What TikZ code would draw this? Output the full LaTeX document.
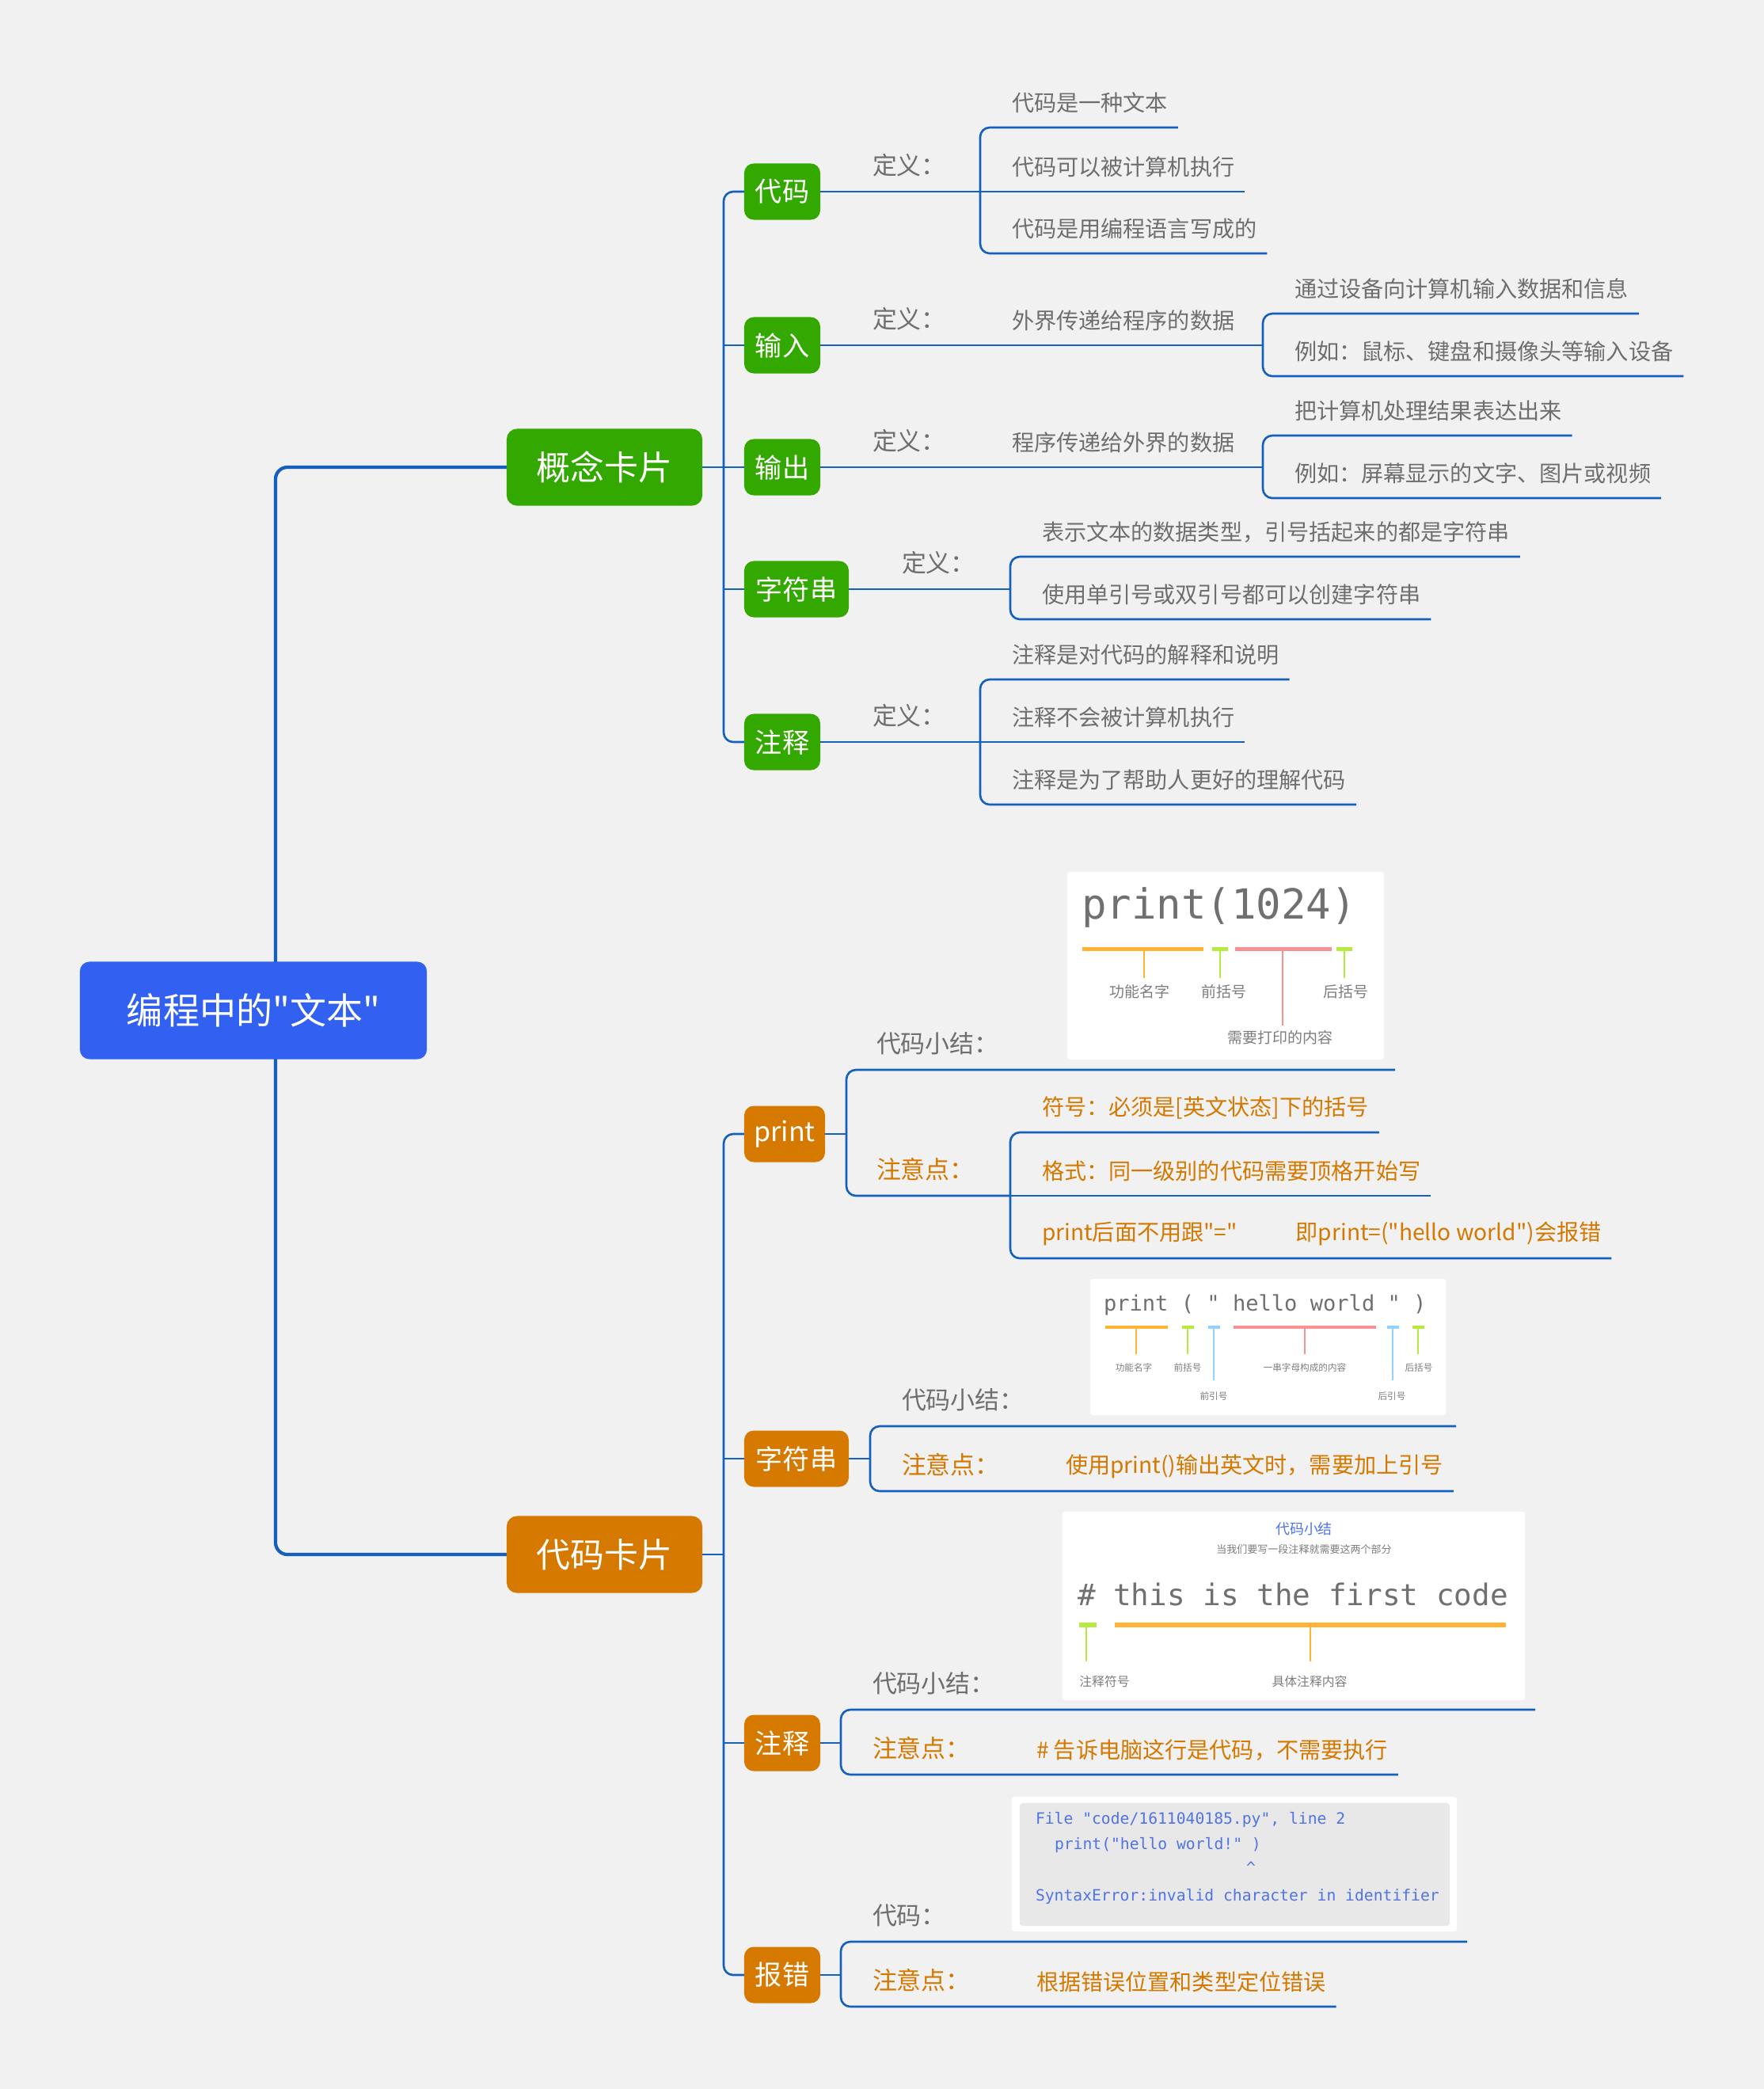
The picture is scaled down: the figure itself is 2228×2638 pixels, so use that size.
\documentclass[tikz,border=0pt]{standalone}
\usepackage{fontspec}
\newfontfamily\cjk{Noto Sans CJK SC}
\newfontfamily\mono{DejaVu Sans Mono}
\usetikzlibrary{calc}
\pgfdeclarelayer{back}
\pgfdeclarelayer{lines}
\pgfsetlayers{back,lines,main}

\definecolor{bgc}{RGB}{241,241,241}
\definecolor{linec}{RGB}{22,96,189}
\definecolor{rootc}{RGB}{50,96,240}
\definecolor{greenc}{RGB}{51,168,0}
\definecolor{orangec}{RGB}{213,121,0}
\definecolor{graytxt}{RGB}{110,110,110}
\definecolor{oratxt}{RGB}{212,120,0}
\definecolor{paneltxt}{RGB}{112,112,112}
\definecolor{panellab}{RGB}{125,125,125}
\definecolor{barora}{RGB}{255,178,52}
\definecolor{bargrn}{RGB}{182,234,60}
\definecolor{barpink}{RGB}{248,146,146}
\definecolor{barblue}{RGB}{146,208,255}
\definecolor{codeblue}{RGB}{80,115,230}
\definecolor{errbg}{RGB}{232,232,232}

\newcommand\fs[1]{\fontsize{#1}{#1}\selectfont}

\tikzset{
  every node/.style={inner sep=0pt, outer sep=0pt},
  conn/.style={draw=linec, line width=0.75pt, rounded corners=0.12cm},
  rootconn/.style={draw=linec, line width=1.2pt, rounded corners=0.15cm},
  rootbox/.style={fill=rootc, text=white, rounded corners=0.12cm,
    minimum width=4.38cm, minimum height=1.23cm, font=\cjk\fs{13.1}},
  cardbox/.style={fill=#1, text=white, rounded corners=0.13cm,
    minimum width=2.47cm, minimum height=0.97cm, font=\cjk\fs{12.2}},
  subbox/.style={fill=#1, text=white, rounded corners=0.12cm,
    minimum height=0.71cm, font=\cjk\fs{9.7}},
  labtxt/.style={anchor=west, text=#1, font=\cjk\fs{8.8}},
  labtxt/.default=graytxt,
  leaftxt/.style={anchor=west, text=#1, font=\cjk\fs{8}},
  leaftxt/.default=graytxt,
  panelbox/.style={fill=white, rounded corners=0.03cm},
  plab/.style={text=panellab, font=\cjk\fs{#1}},
  stem/.style={line width=0.02cm},
}

% underlined topic: style, name, bracket x, underline y, text
\newcommand\topic[5]{%
  \coordinate (#2-s) at (#3,#4);
  \node[#1] (#2) at ($(#2-s)+(40,-31)$) {#5};
  \coordinate (#2-e) at ($(#2.east |- #2-s)+(13,0)$);
}

% marker bar with its stem: colour, x1, x2, y, thickness, stem x, stem end y
\newcommand\markbar[7]{%
  \fill[#1] (#2,#4-#5/2) rectangle (#3,#4+#5/2);
  \draw[#1, stem] (#6,#4) -- (#6,#7);
}

\begin{document}
\begin{tikzpicture}[x=0.01cm, y=-0.01cm]
\begin{pgfonlayer}{back}
  \fill[bgc] (0,0) rectangle (2228,2638);
\end{pgfonlayer}
\useasboundingbox (0,0) rectangle (2228,2638);

% ---------- root and the two cards ----------
\node[rootbox] (root) at (320,1276) {编程中的"文本"};
\node[cardbox=greenc] (gn) at (763.5,590) {概念卡片};
\node[cardbox=orangec] (dn) at (763.5,1963) {代码卡片};
\coordinate (rv) at (348,0);
\coordinate (tk) at (914,0);

% ---------- concept card ----------
\node[subbox=greenc, minimum width=0.96cm] (c1) at (988,242) {代码};
\node[subbox=greenc, minimum width=0.96cm] (c2) at (988,436) {输入};
\node[subbox=greenc, minimum width=0.96cm] (c3) at (988,590) {输出};
\node[subbox=greenc, minimum width=1.32cm] (c4) at (1006,744) {字符串};
\node[subbox=greenc, minimum width=0.96cm] (c5) at (988,937) {注释};

\node[labtxt] (c1d) at (1102,209) {定义：};
\topic{leaftxt}{c1a}{1238}{161}{代码是一种文本}
\topic{leaftxt}{c1b}{1238}{242}{代码可以被计算机执行}
\topic{leaftxt}{c1c}{1238}{320}{代码是用编程语言写成的}

\node[labtxt] (c2d) at (1102,403) {定义：};
\topic{leaftxt}{c2a}{1238}{436}{外界传递给程序的数据}
\coordinate (c2k) at (1595,436);
\topic{leaftxt}{c2a1}{1595}{396}{通过设备向计算机输入数据和信息}
\topic{leaftxt}{c2a2}{1595}{475}{例如：鼠标、键盘和摄像头等输入设备}

\node[labtxt] (c3d) at (1102,557) {定义：};
\topic{leaftxt}{c3a}{1238}{590}{程序传递给外界的数据}
\coordinate (c3k) at (1595,590);
\topic{leaftxt}{c3a1}{1595}{550}{把计算机处理结果表达出来}
\topic{leaftxt}{c3a2}{1595}{629}{例如：屏幕显示的文字、图片或视频}

\node[labtxt] (c4d) at (1139,711) {定义：};
\topic{leaftxt}{c4a}{1276}{703}{表示文本的数据类型，引号括起来的都是字符串}
\topic{leaftxt}{c4b}{1276}{782}{使用单引号或双引号都可以创建字符串}

\node[labtxt] (c5d) at (1102,904) {定义：};
\topic{leaftxt}{c5a}{1238}{858}{注释是对代码的解释和说明}
\topic{leaftxt}{c5b}{1238}{937}{注释不会被计算机执行}
\topic{leaftxt}{c5c}{1238}{1016}{注释是为了帮助人更好的理解代码}

% ---------- code card ----------
\node[subbox=orangec, minimum width=1.02cm] (d1) at (991,1432) {print};
\node[subbox=orangec, minimum width=1.32cm] (d2) at (1006,1842) {字符串};
\node[subbox=orangec, minimum width=0.96cm] (d3) at (988,2201) {注释};
\node[subbox=orangec, minimum width=0.96cm] (d4) at (988,2494) {报错};

% print
\coordinate (d1s) at (1069,1351);
\coordinate (d1se) at (1762,1351);
\coordinate (d1n) at (1069,1510);
\coordinate (d1k) at (1276,1510);
\node[labtxt] (d1sum) at (1107,1318) {代码小结：};
\node[labtxt=oratxt] (d1note) at (1107,1477) {注意点：};
\topic{leaftxt=oratxt}{d1a}{1276}{1430}{符号：必须是[英文状态]下的括号}
\topic{leaftxt=oratxt}{d1b}{1276}{1510}{格式：同一级别的代码需要顶格开始写}
\topic{leaftxt=oratxt}{d1c}{1276}{1589}{print后面不用跟"="\hspace{0.74cm}即print=("hello world")会报错}

% string
\coordinate (d2s) at (1099,1801);
\coordinate (d2se) at (1839,1801);
\coordinate (d2n) at (1099,1883);
\node[labtxt] (d2sum) at (1139,1768) {代码小结：};
\node[labtxt=oratxt] (d2note) at (1139,1850) {注意点：};
\node[leaftxt=oratxt] (d2a) at (1346,1852) {使用print()输出英文时，需要加上引号};
\coordinate (d2ae) at ($(d2a.east |- d2n)+(13,0)$);

% comment
\coordinate (d3s) at (1062,2159);
\coordinate (d3se) at (1939,2159);
\coordinate (d3n) at (1062,2241);
\node[labtxt] (d3sum) at (1102,2126) {代码小结：};
\node[labtxt=oratxt] (d3note) at (1102,2208) {注意点：};
\node[leaftxt=oratxt] (d3a) at (1309,2210) {\# 告诉电脑这行是代码，不需要执行};
\coordinate (d3ae) at ($(d3a.east |- d3n)+(13,0)$);

% error
\coordinate (d4s) at (1062,2452);
\coordinate (d4se) at (1853,2452);
\coordinate (d4n) at (1062,2534);
\node[labtxt] (d4sum) at (1102,2419) {代码：};
\node[labtxt=oratxt] (d4note) at (1102,2501) {注意点：};
\node[leaftxt=oratxt] (d4a) at (1309,2503) {根据错误位置和类型定位错误};
\coordinate (d4ae) at ($(d4a.east |- d4n)+(13,0)$);

% ---------- connectors ----------
\begin{pgfonlayer}{lines}
  \draw[rootconn] (gn.west) -- (rv |- gn.west) -- (rv |- dn.west) -- (dn.west);

  \draw[conn] (c1.west) -- (tk |- c1.west) -- (tk |- c5.west) -- (c5.west);
  \draw[conn] (gn.east) -- (c3.west);
  \draw[conn] (tk |- c2.west) -- (c2.west);
  \draw[conn] (tk |- c4.west) -- (c4.west);

  \draw[conn] (c1.east) -- (c1b-s);
  \draw[conn] (c1a-e) -- (c1a-s) -- (c1c-s) -- (c1c-e);
  \draw[conn] (c1b-s) -- (c1b-e);

  \draw[conn] (c2.east) -- (c2k);
  \draw[conn] (c2a1-e) -- (c2a1-s) -- (c2a2-s) -- (c2a2-e);

  \draw[conn] (c3.east) -- (c3k);
  \draw[conn] (c3a1-e) -- (c3a1-s) -- (c3a2-s) -- (c3a2-e);

  \draw[conn] (c4.east) -- (c4a-s |- c4.east);
  \draw[conn] (c4a-e) -- (c4a-s) -- (c4b-s) -- (c4b-e);

  \draw[conn] (c5.east) -- (c5b-s);
  \draw[conn] (c5a-e) -- (c5a-s) -- (c5c-s) -- (c5c-e);
  \draw[conn] (c5b-s) -- (c5b-e);

  \draw[conn] (d1.west) -- (tk |- d1.west) -- (tk |- d4.west) -- (d4.west);
  \draw[conn] (tk |- d2.west) -- (d2.west);
  \draw[conn] (tk |- d3.west) -- (d3.west);
  \draw[conn] (dn.east) -- (tk |- dn.east);

  \draw[conn] (d1.east) -- (d1s |- d1.east);
  \draw[conn] (d1se) -- (d1s) -- (d1n) -- (d1k);
  \draw[conn] (d1a-e) -- (d1a-s) -- (d1c-s) -- (d1c-e);
  \draw[conn] (d1b-s) -- (d1b-e);

  \draw[conn] (d2.east) -- (d2s |- d2.east);
  \draw[conn] (d2se) -- (d2s) -- (d2n) -- (d2ae);

  \draw[conn] (d3.east) -- (d3s |- d3.east);
  \draw[conn] (d3se) -- (d3s) -- (d3n) -- (d3ae);

  \draw[conn] (d4.east) -- (d4s |- d4.east);
  \draw[conn] (d4se) -- (d4s) -- (d4n) -- (d4ae);
\end{pgfonlayer}

% ---------- panel: print(1024) ----------
\node[panelbox, minimum width=4.00cm, minimum height=2.37cm] (p1) at (1548,1219.5) {};
\node[anchor=west, text=paneltxt, font=\mono\fs{14.9}] (p1t) at (1366,1146) {print(1024)};
\markbar{barora}{1367}{1520}{1198}{5}{1445}{1235}
\markbar{bargrn}{1531}{1551}{1198}{5}{1541}{1235}
\markbar{barpink}{1560}{1682}{1198}{5}{1620}{1295}
\markbar{bargrn}{1688}{1708}{1198}{5}{1698}{1235}
\node[plab=5.4] (p1a) at (1439,1252) {功能名字};
\node[plab=5.4] (p1b) at (1546,1252) {前括号};
\node[plab=5.4] (p1c) at (1617,1310) {需要打印的内容};
\node[plab=5.4] (p1d) at (1700,1252) {后括号};

% ---------- panel: print ( " hello world " ) ----------
\node[panelbox, minimum width=4.49cm, minimum height=1.72cm] (p2) at (1601.5,1701) {};
\node[anchor=west, text=paneltxt, font=\mono\fs{7.7}] (p2t) at (1394,1648) {print ( " hello world " )};
\markbar{barora}{1396}{1475}{1676}{4}{1435}{1710}
\markbar{bargrn}{1493}{1508}{1676}{4}{1500}{1710}
\markbar{barblue}{1526}{1541}{1676}{4}{1533}{1743}
\markbar{barpink}{1558}{1738}{1676}{4}{1648}{1710}
\markbar{barblue}{1752}{1767}{1676}{4}{1759}{1743}
\markbar{bargrn}{1784}{1799}{1676}{4}{1791}{1710}
\node[plab=3.3] (p2a) at (1432,1727) {功能名字};
\node[plab=3.3] (p2b) at (1500,1727) {前括号};
\node[plab=3.3] (p2c) at (1533,1763) {前引号};
\node[plab=3.3] (p2d) at (1648,1727) {一串字母构成的内容};
\node[plab=3.3] (p2e) at (1758,1763) {后引号};
\node[plab=3.3] (p2f) at (1792,1727) {后括号};

% ---------- panel: comment ----------
\node[panelbox, minimum width=5.84cm, minimum height=2.38cm] (p3) at (1634,2028) {};
\node[text=codeblue, font=\cjk\fs{5.1}] (p3h) at (1647,1931) {代码小结};
\node[plab=3.7] (p3s) at (1647,1957) {当我们要写一段注释就需要这两个部分};
\node[anchor=west, text=paneltxt, font=\mono\fs{10.7}] (p3t) at (1361,2013) {\# this is the first code};
\markbar{bargrn}{1363}{1385}{2052}{6}{1372}{2098}
\markbar{barora}{1408}{1902}{2052}{6}{1655}{2098}
\node[plab=4.5] (p3a) at (1395,2123) {注释符号};
\node[plab=4.5] (p3b) at (1654,2123) {具体注释内容};

% ---------- panel: error message ----------
\node[panelbox, minimum width=5.62cm, minimum height=1.70cm] (p4) at (1559,2354) {};
\node[fill=errbg, rounded corners=0.04cm, minimum width=5.43cm, minimum height=1.55cm] (p4in) at (1559.5,2354.5) {};
\begin{scope}[every node/.append style={anchor=west, text=codeblue, font=\mono\fs{5.6}}]
  \node (p4l1) at (1308,2298) {File "code/1611040185.py", line 2};
  \node (p4l2) at (1332,2330) {print("hello world!" )};
  \node (p4l3) at (1574,2358) {\textasciicircum};
  \node (p4l4) at (1308,2395) {SyntaxError:invalid character in identifier};
\end{scope}
\end{tikzpicture}
\end{document}
